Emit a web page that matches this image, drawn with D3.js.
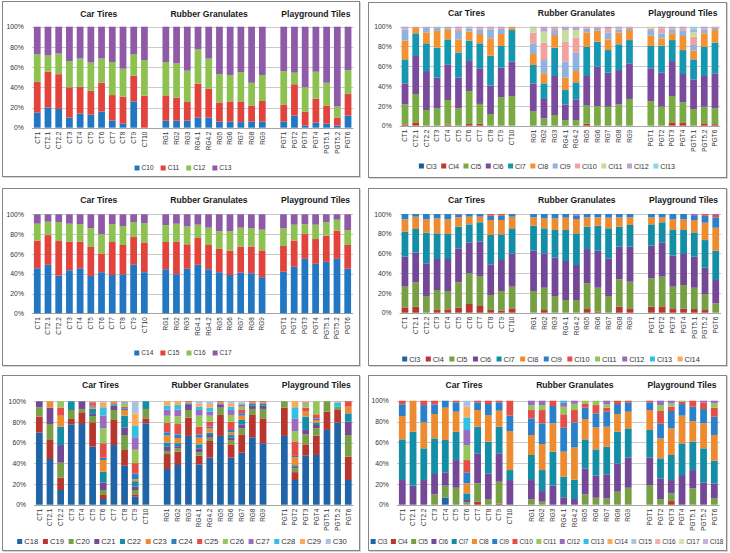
<!DOCTYPE html>
<html><head><meta charset="utf-8">
<script src="https://cdn.jsdelivr.net/npm/d3@7"></script>
<style>
body{margin:0;background:#fff}
svg{display:block}
text{font-family:"Liberation Sans",Arial,sans-serif;}
</style>
</head><body>
<svg id="chart" width="730" height="553"></svg>
<script>
// ---------- categories ----------
const ctCats = ["CT1","CT2.1","CT2.2","CT3","CT4","CT5","CT6","CT7","CT8","CT9","CT10"];
const rgCats = ["RG1","RG2","RG3","RG4.1","RG4.2","RG5","RG6","RG7","RG8","RG9"];
const pgtCats = ["PGT1","PGT2","PGT3","PGT4","PGT5.1","PGT5.2","PGT6"];
const groupTitles = ["Car Tires","Rubber Granulates","Playground Tiles"];
const yTickValues = [0,0.2,0.4,0.6,0.8,1];

// ---------- panel 1 : C10-C13 ----------
const p1Series = ["C10","C11","C12","C13"];
const p1C10 = [15,20,18.5,10,14,13,16,7,4,26,0, 7,7,7,10,10,6,6,5.5,6,6, 6,12,2,5,4,2,12];
const p1C11 = [30.5,35.5,34.5,30,26.5,23.5,28.5,25.3,26.7,25.5,31.7, 25,22.7,18.5,33.5,28.5,19,20,20,16,20.5, 17,31,14,23.7,18,8,21.3];
const p1C12 = [27.5,16,20.5,26,28,28,24,32.7,27.7,21,35.3, 33,34,31,34,30,28,26,29.5,22.5,25.5, 33,11.5,24,26.7,22.5,11,23.7];
const p1C13 = [27,28.5,26.5,34,31.5,35.5,31.5,35,41.6,27.5,33, 35,36.3,43.5,22.5,31.5,47,48,45,55.5,48, 44,45.5,60,44.6,55.5,79,43];

// ---------- panel 2 : Cl3-Cl13 ----------
const p2Series = ["Cl3","Cl4","Cl5","Cl6","Cl7","Cl8","Cl9","Cl10","Cl11","Cl12","Cl13"];
const p2Cl3  = [0,0,0,0,0,0,0,0,0,0,0, 0,0,0,0,0,0,0,0,0,0, 0,0,0,0,0,0,0];
const p2Cl4  = [1.3,3.4,0,0,1,0,1.7,2,0,0,0, 0,0,0,0,0,2,0,0,0,0, 0,0,3.4,2.7,0,2.4,1.5];
const p2Cl5  = [20.2,28.6,15.8,17.5,25,17.5,33.3,20,11.8,28.6,30, 14.8,7.4,10.8,5.7,5.7,18.2,19.9,19.2,21.5,27, 24.9,19.2,26.6,20.9,16.8,16.8,16];
const p2Cl6  = [21.3,38.4,39.4,31,36,31,30.3,36,28.6,30,34.6, 28,19.6,39.4,15.8,20.9,30,39.7,34.3,34.7,36, 33.1,34.3,35.3,28.6,30,31,35.4];
const p2Cl7  = [24.2,22.9,28,30.3,25.2,25.5,20.6,25.2,30.3,21.9,32, 18.5,15.8,28.6,14.5,17.2,29.6,25.2,22.9,26,23.5, 22.5,27.3,21.2,24.2,20.2,29.6,30.9];
const p2Cl8  = [18.9,5.7,11.1,16.8,10.1,13.2,9.1,9.4,17.5,12.1,2.7, 11.1,10.1,12.8,12.5,11.4,14.5,11.2,10.8,11.8,10.1, 10.4,7.4,6.8,14.2,8.8,13.5,12.8];
const p2Cl9  = [11.4,0.5,5,3.7,2.2,8.4,3.3,4,9.1,5,0.7, 10.8,13.4,5,16.1,18.5,4,3,6.8,3.3,2.4, 5.7,5.1,4,5.4,5.7,4,2.4];
const p2Cl10 = [1.5,0.5,0.7,0.7,0.5,2.7,0.7,1.5,1.5,1.2,0, 10.8,17.5,2.4,20.2,15.2,1.7,1,3.3,1.5,1, 1.7,5,1.7,2.3,8.4,1.5,1];
const p2Cl11 = [0,0,0,0,0,0,0,0,0,0,0, 5.3,11.2,0,11.8,7.7,0,0,0,0,0, 1.7,0,0,0,4.4,0,0];
const p2Cl12 = [1.2,0,0,0,0,1.7,1,1.9,1.2,1.2,0, 0.7,5,1,3.4,3.4,0,0,2.7,1.2,0, 0,1.7,1,1.7,2.3,1.2,0];
const p2Cl13 = [0,0,0,0,0,0,0,0,0,0,0, 0,0,0,0,0,0,0,0,0,0, 0,0,0,0,3.4,0,0];

// ---------- panel 3 : C14-C17 ----------
const p3Series = ["C14","C15","C16","C17"];
const p3C14 = [45.5,49,38,43.5,45.5,37.7,41.5,38.7,39.4,49,41.5, 44.5,39.5,45,49,44.5,41.5,38.7,41,40.5,36.5, 42,47,55,50,52,55,45];
const p3C15 = [28,30,35,29,27,29.3,19,33.3,29.6,28,30, 27.5,33,24.7,27,24.5,23.5,24.6,26.5,27,27, 26,26.5,25,25,26.5,28.5,24];
const p3C16 = [17,13.5,19,18,17.5,19,19.5,18.2,19.2,15,19.5, 17,18,18,13.5,17.5,18,19.7,19,18.5,21, 18,16,10,14.5,13.5,11,15];
const p3C17 = [9.5,7.5,8,9.5,10,14,20,9.8,11.8,8,9, 11,9.5,12.3,10.5,13.5,17,17,13.5,14,15.5, 14,10.5,10,10.5,8,5.5,16];

// ---------- panel 4 : Cl3-Cl14 ----------
const p4Series = ["Cl3","Cl4","Cl5","Cl6","Cl7","Cl8","Cl9","Cl10","Cl11","Cl12","Cl13","Cl14"];
const p4Cl3  = [0,0,0,0,0,0,0,0,0,0,0, 0,0,0,0,0,0,0,0,0,0, 0,0,0,0,0,0,0];
const p4Cl4  = [5.4,6,0,2.7,3.4,5,8.8,6.8,2.7,2,4.4, 0,2.7,0,0,0,3.7,1,0,6,4.4, 6,6.4,3.7,4,3.7,2.7,0];
const p4Cl5  = [21,24.7,16.9,20.3,18.6,25.7,31.1,30.4,15.2,20,22, 22,22.6,16.9,12.8,12.8,26,24.3,16.9,27.8,27, 28.8,30.1,22.7,24,21.6,16.2,9.5];
const p4Cl6  = [30.4,30.4,33.1,31.4,32.4,34.5,31.4,34.8,31.1,31.4,33.7, 40.8,34.8,38.8,39.6,35.5,34.8,37.5,38.1,33.1,35.5, 33.1,34.8,31.4,31.5,31.5,26.7,23.6];
const p4Cl7  = [25.3,23.7,31.1,26,25.3,22,18.2,19.6,29.7,26,25.4, 25.4,25.4,28.1,31.4,32.1,22.7,25.4,30.5,20.3,22, 21.6,20.3,26,24.3,24.6,28,29.7];
const p4Cl8  = [12.5,12.5,13.5,15.2,14.9,9.4,7.8,5.7,15.2,14.5,11.8, 8.4,10.1,11.8,12.5,14.5,9.4,8.4,10.8,9.4,7.7, 7.1,5,10.8,10.8,12.5,17.6,23.3];
const p4Cl9  = [5.4,2.7,5.4,4.4,5.4,2.4,2.7,2.7,4.4,4.4,2.7, 3.4,4.4,4.4,3.7,3.4,3.4,3.4,3.7,3.4,3.4, 3.4,3.4,5.4,5.4,4.1,7.1,10.5];
const p4Cl10 = [0,0,0,0,0,0,0,0,1.7,1.7,0, 0,0,0,0,0,0,0,0,0,0, 0,0,0,0,0,1.7,2.4];
const p4Cl11 = [0,0,0,0,0,0,0,0,0,0,0, 0,0,0,0,0,0,0,0,0,0, 0,0,0,0,0,0,0];
const p4Cl12 = [0,0,0,0,0,1,0,0,0,0,0, 0,0,0,0,1.7,0,0,0,0,0, 0,0,0,0,2,0,1];
const p4Cl13 = [0,0,0,0,0,0,0,0,0,0,0, 0,0,0,0,0,0,0,0,0,0, 0,0,0,0,0,0,0];
const p4Cl14 = [0,0,0,0,0,0,0,0,0,0,0, 0,0,0,0,0,0,0,0,0,0, 0,0,0,0,0,0,0];

// ---------- panel 5 : C18-C30 ----------
const p5Series = ["C18","C19","C20","C21","C22","C23","C24","C25","C26","C27","C28","C29","C30"];
const p5C18 = [69.7,44.2,14.2,77.7,78,56.1,5.5,57.7,37.7,7.7,78.7, 34.5,38.4,66.5,39,45.5,66.5,45.5,50.3,65.2,59.4, 66.5,23.9,47.4,48.1,72.3,79.4,23.9];
const p5C19 = [15.5,18.4,11.9,5.2,11.4,23.6,3.9,24.2,15.2,2.3,4.8, 14.5,12.9,17.7,8.4,16.1,20.3,12.9,17.7,21.6,24.1, 27.4,7.6,11,18.7,17.7,12.2,22.6];
const p5C20 = [9,15.4,14.5,8.7,3.2,6.1,4.8,9.7,14.5,4.2,9.1, 3,3.2,7.4,3.2,3.2,7.1,4.2,5.9,5.8,9.1, 6.1,3.7,9.6,7.1,10,3.2,20.9];
const p5C21 = [5.8,15.9,17.1,0,7.4,2,7.4,4.2,7.4,3.5,0, 4,2,4.9,3.9,2.6,3.1,2.2,3.8,3.2,3.2, 0,1.5,4.3,3.2,0,0,12.9];
const p5C22 = [0,0,17.8,8.4,0,5,10.3,1.4,11.3,5,7.4, 4,3,1.5,3.9,2.3,1,2.6,4.2,2.2,2.2, 0,1.5,12.9,2.3,0,0,8.1];
const p5C23 = [0,6.1,10.6,0,0,2,11.3,1.5,5.5,2,0, 7,5,1,6.4,4.2,1,2.6,4.2,1,1, 0,7.8,4.8,2.5,0,0,6.4];
const p5C24 = [0,0,0,0,0,1,2.3,0,1.6,5.5,0, 3,3.5,0,3.2,1.6,0,2.3,2.3,0,0, 0,1.2,0,1.6,0,0,0];
const p5C25 = [0,0,7.8,0,0,2.4,13.9,0.8,1.6,10,0, 9,10,1,7.5,4.8,1,8.1,3.2,1,1, 0,14,3.9,3.9,0,0,5.2];
const p5C26 = [0,0,6.1,0,0,0,14.5,0.5,3.2,13,0, 7,7.5,0,10.6,5.8,0,6.5,3.2,0,0, 0,10,3.9,12.6,0,0,0];
const p5C27 = [0,0,0,0,0,1,12.2,0,1,12,0, 6,6.5,0,5.5,3.9,0,4.8,2.2,0,0, 0,12,1.2,0,0,0,0];
const p5C28 = [0,0,0,0,0,0,8.1,0,0.5,11,0, 4,4.5,0,3.2,3.9,0,3.2,1,0,0, 0,11,0,0,0,4.2,0];
const p5C29 = [0,0,0,0,0,0.8,4.8,0,0.5,12,0, 4,3.5,0,3.2,3.5,0,3.2,1,0,0, 0,5.8,1,0,0,1,0];
const p5C30 = [0,0,0,0,0,0,1,0,0,11.8,0, 0,0,0,2,2.6,0,2,1,0,0, 0,0,0,0,0,0,0];

// ---------- panel 6 : Cl3-Cl18 ----------
const p6Series = ["Cl3","Cl4","Cl5","Cl6","Cl7","Cl8","Cl9","Cl10","Cl11","Cl12","Cl13","Cl14","Cl15","Cl16","Cl17","Cl18"];
const p6Cl3  = [0,0,0,0,6.7,0,0,0,0,0,0, 0,0,0,0,0,0,0,0,0,0, 0,0,0,0,0,0,0];
const p6Cl4  = [0,0,0,0,0,0,0,2.9,0,1,0, 0,0,0,0,0,0,0,0,0,0, 0,0,3.5,0,0,0,0];
const p6Cl5  = [0,0,0,9.9,11.6,16.3,2.2,17.6,5.4,21.1,0, 5.1,2.9,0,0,0,9.9,6.7,6.1,12.5,16.3, 18.9,5.4,7.4,0,15.7,0,6.1];
const p6Cl6  = [23.7,18.3,23.7,19.6,12.8,26.6,2.3,28.9,24.7,27.3,23.7, 18.6,10.2,18.3,7.1,5.5,25,21.2,23.1,27.2,28.9, 26.3,19.9,12.8,28.5,17.6,21.5,14.4];
const p6Cl7  = [39.1,51.9,30.5,34.3,31.1,27.3,6.4,25.6,30.5,25.6,9.6, 24.1,20.2,32.7,19.8,18.5,27.9,25.3,26.6,30.5,28.2, 26.6,19.3,24.1,30.5,27.3,32.7,21.8];
const p6Cl8  = [22.5,29.8,25,23.4,31.1,19.2,9.6,16,25.6,15.4,37.5, 19.2,25,27.2,24.1,31,19.6,21.2,19.2,17,16, 19.2,19.2,25.6,26.6,19.8,24,24.7];
const p6Cl9  = [11.2,0,16.6,9.3,6.7,9,10.6,7.4,10.6,8,14.8, 16,19.9,16.7,23,24,10.9,13.4,14.4,9.6,9, 7.4,14.4,16.7,11.2,13.8,13.8,17.6];
const p6Cl10 = [3.5,0,4.2,3.5,0,1.6,11.8,1.6,3.2,1.6,14.4, 8,12.8,5.1,12.9,12,4.1,8,3.9,3.2,1.6, 1.6,11.9,4.1,2.2,5.8,6.4,8.7];
const p6Cl11 = [0,0,0,0,0,0,14.5,0,0,0,0, 4.8,4.8,0,7.3,6,2.6,4.2,3.2,0,0, 0,5.7,3.2,1,0,0,4.1];
const p6Cl12 = [0,0,0,0,0,0,14.4,0,0,0,0, 4.2,4.2,0,3.8,3,0,0,3.5,0,0, 0,4.2,2.6,0,0,1.6,2.6];
const p6Cl13 = [0,0,0,0,0,0,12.2,0,0,0,0, 0,0,0,2,0,0,0,0,0,0, 0,0,0,0,0,0,0];
const p6Cl14 = [0,0,0,0,0,0,10.2,0,0,0,0, 0,0,0,0,0,0,0,0,0,0, 0,0,0,0,0,0,0];
const p6Cl15 = [0,0,0,0,0,0,5.8,0,0,0,0, 0,0,0,0,0,0,0,0,0,0, 0,0,0,0,0,0,0];
const p6Cl16 = [0,0,0,0,0,0,0,0,0,0,0, 0,0,0,0,0,0,0,0,0,0, 0,0,0,0,0,0,0];
const p6Cl17 = [0,0,0,0,0,0,0,0,0,0,0, 0,0,0,0,0,0,0,0,0,0, 0,0,0,0,0,0,0];
const p6Cl18 = [0,0,0,0,0,0,0,0,0,0,0, 0,0,0,0,0,0,0,0,0,0, 0,0,0,0,0,0,0];

// ---------- colours ----------
const palette4 = ["#2277c3","#e2433d","#8dc250","#8f5ba8"];
const palette11 = ["#1d5a96","#c0392f","#79aa44","#7a4b9c","#1597b0","#f5912e","#8fb2df","#f0a1a0","#c5de9e","#b9a4d3","#8fd4e8"];
const paletteLong = ["#1f64a6","#b7372f","#76a043","#744897","#138ea6","#ee8a2f","#2b80cc","#e44d48","#95c65a","#9a6cbf","#2fc0e3","#fca95a","#a9c1e3","#f3b1ae","#d0e4b1","#c4b4db"];

// ---------- panel layout ----------
const panels = [
  {box:[2,1,357,175], x0:31.9, x1:353.4, yTop:26.7, yBot:127.7, titleY:14, series:p1Series,
   values:[p1C10,p1C11,p1C12,p1C13], colors:palette4, lgCx:183, lgCy:168, lgFs:6.6, lgGap:7},
  {box:[368,2,358,175], x0:399.7, x1:720.3, yTop:26.7, yBot:125.7, titleY:12.7, series:p2Series,
   values:[p2Cl3,p2Cl4,p2Cl5,p2Cl6,p2Cl7,p2Cl8,p2Cl9,p2Cl10,p2Cl11,p2Cl12,p2Cl13], colors:palette11, lgCx:547, lgCy:166, lgFs:7.2, lgGap:4.5},
  {box:[2,188,357,177], x0:31.95, x1:353.05, yTop:214.3, yBot:313.3, titleY:200, series:p3Series,
   values:[p3C14,p3C15,p3C16,p3C17], colors:palette4, lgCx:183, lgCy:353, lgFs:6.6, lgGap:7},
  {box:[368,188,358,177], x0:399.6, x1:721.1, yTop:214, yBot:312.7, titleY:200, series:p4Series,
   values:[p4Cl3,p4Cl4,p4Cl5,p4Cl6,p4Cl7,p4Cl8,p4Cl9,p4Cl10,p4Cl11,p4Cl12,p4Cl13,p4Cl14], colors:paletteLong, lgCx:551, lgCy:359, lgFs:7.4, lgGap:5.5},
  {box:[2,375,357,175], x0:34, x1:353.6, yTop:401.3, yBot:504.7, titleY:384.7, series:p5Series,
   values:[p5C18,p5C19,p5C20,p5C21,p5C22,p5C23,p5C24,p5C25,p5C26,p5C27,p5C28,p5C29,p5C30], colors:paletteLong, lgCx:182, lgCy:541.5, lgFs:7.7, lgGap:4.6},
  {box:[368,375,358,175], x0:396.9, x1:719.7, yTop:400.7, yBot:504.7, titleY:385, series:p6Series,
   values:[p6Cl3,p6Cl4,p6Cl5,p6Cl6,p6Cl7,p6Cl8,p6Cl9,p6Cl10,p6Cl11,p6Cl12,p6Cl13,p6Cl14,p6Cl15,p6Cl16,p6Cl17,p6Cl18], colors:paletteLong, lgCx:547, lgCy:541.5, lgFs:6.5, lgGap:3.5}
];
const titleOffsets = [8,-5,0];

const svg = d3.select("#chart");
const allCats = [...ctCats, ...rgCats, ...pgtCats];
const domain = [...ctCats, "gap1", ...rgCats, "gap2", ...pgtCats];

function drawPanel(p){
  const g = svg.append("g");
  const [bx,by,bw,bh] = p.box;
  // frame with light shadow
  g.append("rect").attr("x",bx+1.5).attr("y",by+1.5).attr("width",bw).attr("height",bh)
    .attr("fill","none").attr("stroke","#d4d4d4").attr("stroke-width",1);
  g.append("rect").attr("x",bx+0.5).attr("y",by+0.5).attr("width",bw).attr("height",bh)
    .attr("fill","#fff").attr("stroke","#858585").attr("stroke-width",1);

  const x = d3.scaleBand().domain(domain).range([p.x0,p.x1]).paddingInner(0.37).paddingOuter(0.185);
  const y = d3.scaleLinear().domain([0,1]).range([p.yBot,p.yTop]);

  // gridlines
  g.append("g").selectAll("line").data(yTickValues).join("line")
    .attr("x1",p.x0).attr("x2",p.x1)
    .attr("y1",d=>Math.round(y(d))+0.5).attr("y2",d=>Math.round(y(d))+0.5)
    .attr("stroke",d=>d===0?"#a6a6a6":"#c9c9c9").attr("stroke-width",1);

  // stacked bars
  const rows = allCats.map((c,i)=>{const r={cat:c}; p.series.forEach((s,j)=>{r[s]=p.values[j][i];}); return r;});
  const layers = d3.stack().keys(p.series).offset(d3.stackOffsetExpand)(rows);
  g.append("g").selectAll("g").data(layers).join("g").attr("fill",(d,i)=>p.colors[i])
    .selectAll("rect").data(d=>d.filter(e=>e[1]-e[0]>0)).join("rect")
    .attr("x",d=>x(d.data.cat)).attr("width",x.bandwidth())
    .attr("y",d=>y(d[1])).attr("height",d=>y(d[0])-y(d[1]));

  // y axis
  const yAxis = d3.axisLeft(y).tickValues(yTickValues).tickFormat(d3.format(".0%")).tickSize(0).tickPadding(8);
  const ya = g.append("g").attr("transform",`translate(${p.x0},0)`).call(yAxis);
  ya.select(".domain").remove();
  ya.selectAll("text").attr("font-size",6.8).attr("fill","#333").attr("font-family","Liberation Sans, Arial, sans-serif");

  // x axis
  const xAxis = d3.axisBottom(x).tickSize(0).tickFormat(d=>d.startsWith("gap")?"":d);
  const xa = g.append("g").attr("transform",`translate(0,${p.yBot})`).call(xAxis);
  xa.select(".domain").remove();
  xa.selectAll("text").attr("transform","rotate(-90)").attr("text-anchor","end")
    .attr("x",-4).attr("y",0).attr("dy","0.35em")
    .attr("font-size",6.4).attr("fill","#333").attr("font-family","Liberation Sans, Arial, sans-serif");

  // group titles
  const groups = [ctCats, rgCats, pgtCats];
  g.append("g").selectAll("text").data(groups).join("text")
    .attr("x",(gr,i)=>(x(gr[0])+x(gr[gr.length-1])+x.bandwidth())/2 + titleOffsets[i])
    .attr("y",p.titleY).attr("dy","0.35em").attr("text-anchor","middle")
    .attr("font-size",8.6).attr("font-weight","bold").attr("fill","#1a1a1a")
    .text((gr,i)=>groupTitles[i]);

  // legend
  const sq = 5;
  const lg = g.append("g");
  let pos = 0;
  p.series.forEach((s,i)=>{
    const it = lg.append("g").attr("transform",`translate(${pos},0)`);
    it.append("rect").attr("x",0).attr("y",-sq/2).attr("width",sq).attr("height",sq).attr("fill",p.colors[i]);
    const t = it.append("text").attr("x",sq+2).attr("y",0).attr("dy","0.35em")
      .attr("font-size",p.lgFs).attr("fill","#333").text(s);
    pos += sq + 2 + t.node().getComputedTextLength() + p.lgGap;
  });
  const total = pos - p.lgGap;
  lg.attr("transform",`translate(${p.lgCx - total/2},${p.lgCy})`);
}

panels.forEach(drawPanel);
</script>
</body></html>
